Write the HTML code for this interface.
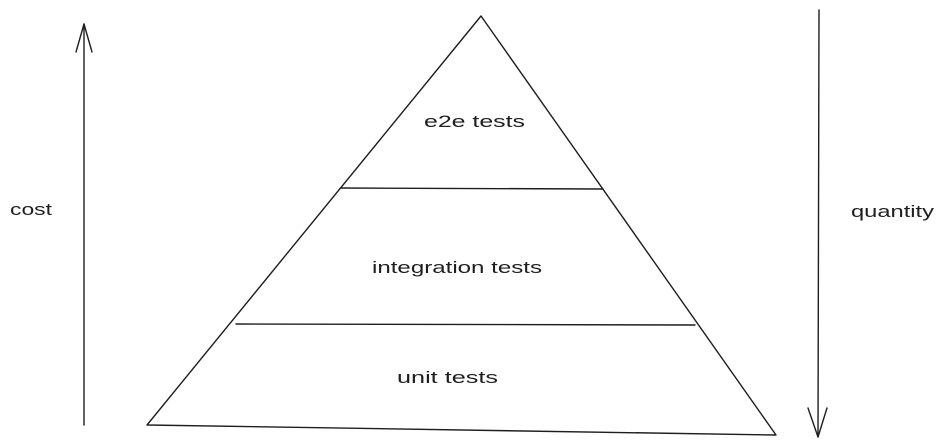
<!DOCTYPE html>
<html><head><meta charset="utf-8"><style>
html,body{margin:0;padding:0;background:#fff;width:943px;height:447px;overflow:hidden}
svg{display:block}
text{font-family:"Liberation Sans",sans-serif;font-size:17px;fill:#1e1e1e}
</style></head><body>
<svg width="943" height="447" viewBox="0 0 943 447" xmlns="http://www.w3.org/2000/svg">
<g fill="none" stroke="#1e1e1e" stroke-width="1.4" stroke-linecap="round" stroke-linejoin="round">
<path d="M481 16 L147 425 L776 435 Z"/>
<path d="M341 188 L603 189"/>
<path d="M236 324 L695 325"/>
<path d="M84 425 L84 24"/>
<path d="M76 52 L84 24 L92 52"/>
<path d="M819 10 L818 437"/>
<path d="M808 408 L818 437 L827 408"/>
</g>
<text x="10" y="215" textLength="42" lengthAdjust="spacingAndGlyphs">cost</text>
<text x="851" y="217" textLength="83" lengthAdjust="spacingAndGlyphs">quantity</text>
<text x="424" y="127" textLength="101" lengthAdjust="spacingAndGlyphs">e2e tests</text>
<text x="372" y="273" textLength="170" lengthAdjust="spacingAndGlyphs">integration tests</text>
<text x="397" y="383" textLength="101" lengthAdjust="spacingAndGlyphs">unit tests</text>
</svg>
</body></html>
